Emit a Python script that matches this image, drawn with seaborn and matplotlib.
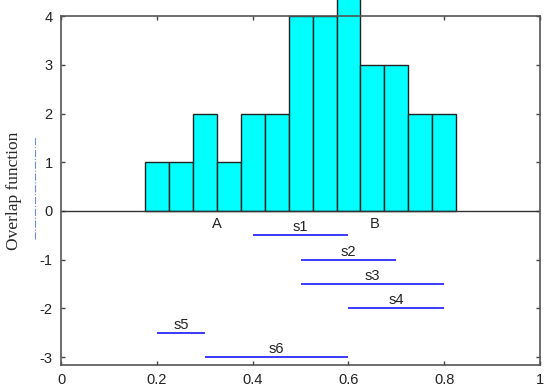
import numpy as np
import pandas as pd
import matplotlib
matplotlib.use("Agg")
import matplotlib.pyplot as plt
import seaborn as sns
from matplotlib.lines import Line2D

# histogram bins (left edges) and counts
bin_lefts = [0.175, 0.225, 0.275, 0.325, 0.375, 0.425, 0.475, 0.525, 0.575, 0.625, 0.675, 0.725, 0.775]
counts = [1, 1, 2, 1, 2, 2, 4, 4, 5, 3, 3, 2, 2]
bin_width = 0.05

# segments below the axis
seg_names = ["s1", "s2", "s3", "s4", "s5", "s6"]
seg_start = [0.4, 0.5, 0.5, 0.6, 0.2, 0.3]
seg_end = [0.6, 0.7, 0.8, 0.8, 0.3, 0.6]
seg_y = [-0.5, -1.0, -1.5, -2.0, -2.5, -3.0]

# point labels
point_names = ["A", "B"]
point_x = [0.325, 0.655]

def main():
    sns.set_theme(style="white")
    plt.rcParams["font.family"] = ["Liberation Sans", "DejaVu Sans"]
    plt.rcParams["axes.unicode_minus"] = False

    fig = plt.figure(figsize=(5.5, 3.92), dpi=100)
    ax = fig.add_axes([0.111, 0.069, 0.871, 0.890])

    df = pd.DataFrame({"x": np.array(bin_lefts) + bin_width / 2, "w": counts})
    sns.histplot(data=df, x="x", weights="w", binwidth=bin_width,
                 binrange=(bin_lefts[0], bin_lefts[-1] + bin_width),
                 color="#00ffff", edgecolor="#222222", linewidth=1.0,
                 alpha=1, ax=ax)
    for p in ax.patches:
        p.set_clip_on(False)

    ax.axhline(0, color="#333333", linewidth=1.0)

    for name, a, b, y in zip(seg_names, seg_start, seg_end, seg_y):
        ax.hlines(y, a, b, color="#3a3aff", linewidth=1.4)
        ax.text((a + b) / 2, y + 0.02, name, ha="center", va="bottom",
                fontsize=10.5, color="#222222")

    for name, x in zip(point_names, point_x):
        ax.text(x, -0.12, name, ha="center", va="top", fontsize=10.5,
                color="#222222")

    ax.set_xlim(0, 1)
    ax.set_ylim(-3.16, 4)
    ax.set_xticks([0, 0.2, 0.4, 0.6, 0.8, 1])
    ax.set_xticklabels(["0", "0.2", "0.4", "0.6", "0.8", "1"])
    ax.set_yticks([-3, -2, -1, 0, 1, 2, 3, 4])
    ax.tick_params(direction="in", length=3, width=1, top=True, right=True,
                   bottom=True, left=True, labelsize=10.5, colors="#444444",
                   labelcolor="#222222", pad=6)
    for s in ax.spines.values():
        s.set_color("#555555")
        s.set_linewidth(1.2)
    ax.set_xlabel("")
    ax.set_ylabel("")

    fig.text(0.026, 0.512, "Overlap function", rotation=90, ha="center",
             va="center", fontsize=12.5, family=["Liberation Serif", "DejaVu Serif"])
    fig.add_artist(Line2D([0.064, 0.064], [0.39, 0.65], transform=fig.transFigure,
                          color="#6a8fd0", linestyle="-.", linewidth=0.8))

    fig.savefig("out.png", dpi=100)
    plt.close(fig)

if __name__ == "__main__":
    main()
